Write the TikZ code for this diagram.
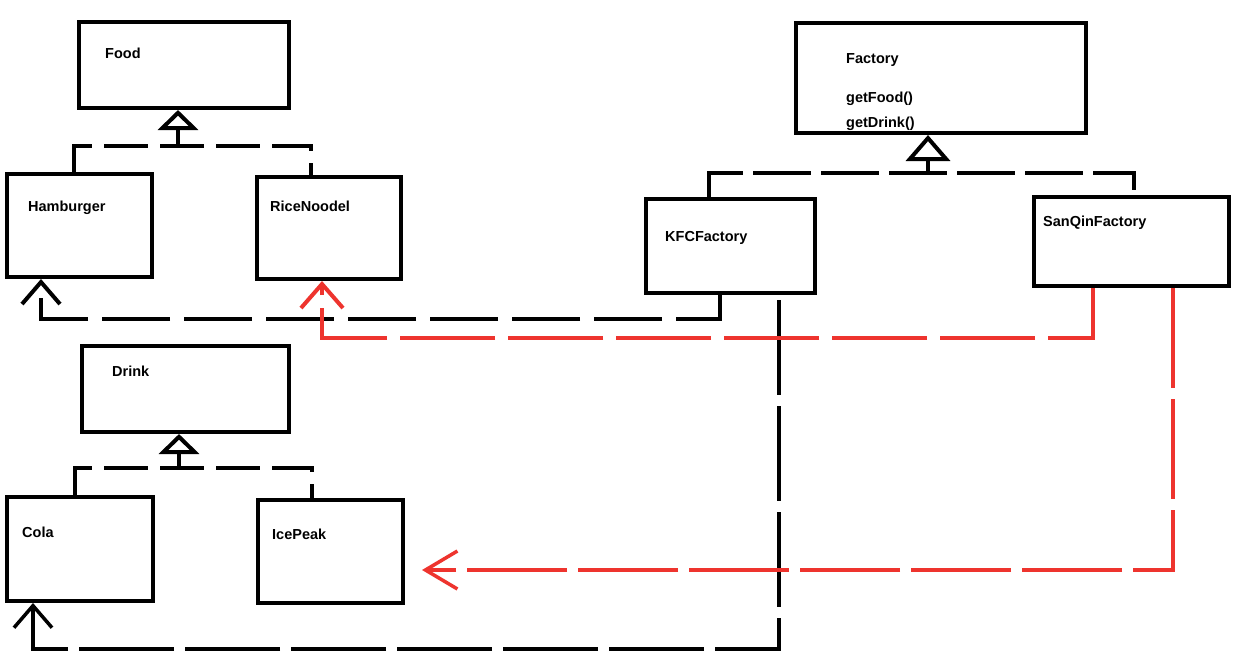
\documentclass[tikz,border=0pt]{standalone}
\usepackage{fontspec}
\setmainfont{Liberation Sans}
\usetikzlibrary{arrows.meta}
\definecolor{penred}{RGB}{238,52,46}
\tikzset{
  box/.style={draw=black, line width=4pt, inner sep=0pt, rectangle},
  lbl/.style={anchor=base west, inner sep=0pt, font=\fontsize{14.5}{16}\selectfont\bfseries},
  inhbar/.style={draw=black, line width=4pt, dash pattern=on 44pt off 12pt},
  inhstem/.style={draw=black, line width=4pt, -{Triangle[open, length=20pt, width=40pt]}},
  depblack/.style={draw=black, line width=4pt, dash pattern=on 68pt off 14pt, -{Straight Barb[length=22pt, width=38pt]}},
  depblackthin/.style={draw=black, line width=3.5pt, dash pattern=on 95pt off 11pt, -{Straight Barb[length=22pt, width=38pt]}},
  depred/.style={draw=penred, line width=4pt, dash pattern=on 95pt off 13pt, -{Straight Barb[length=24pt, width=42pt]}},
  depredthin/.style={draw=penred, line width=3.5pt, dash pattern=on 100pt off 11pt, -{Straight Barb[length=32pt, width=38pt]}},
}
\begin{document}
\begin{tikzpicture}[x=1pt, y=-1pt]
\useasboundingbox[fill=white] (0,0) rectangle (1251,665);

% boxes
\node[box, minimum width=210pt, minimum height=86pt] (food) at (184,65) {};
\node[box, minimum width=145pt, minimum height=103pt] (hamb) at (79.5,225.5) {};
\node[box, minimum width=144pt, minimum height=102pt] (rice) at (329,228) {};
\node[box, minimum width=207pt, minimum height=86pt] (drink) at (185.5,389) {};
\node[box, minimum width=146pt, minimum height=104pt] (cola) at (80,549) {};
\node[box, minimum width=145pt, minimum height=103pt] (ice) at (330.5,551.5) {};
\node[box, minimum width=290pt, minimum height=110pt] (factory) at (941,78) {};
\node[box, minimum width=169pt, minimum height=94pt] (kfc) at (730.5,246) {};
\node[box, minimum width=195pt, minimum height=89pt] (sanqin) at (1131.5,241.5) {};

% labels
\node[lbl] (foodT) at (105,58) {Food};
\node[lbl] (hambT) at (28,211) {Hamburger};
\node[lbl] (riceT) at (270,211) {RiceNoodel};
\node[lbl] (drinkT) at (112,376) {Drink};
\node[lbl] (colaT) at (22,537) {Cola};
\node[lbl] (iceT) at (272,539) {IcePeak};
\node[lbl] (factT) at (846,63) {Factory};
\node[lbl] (getFoodT) at (846,102) {getFood()};
\node[lbl] (getDrinkT) at (846,127) {getDrink()};
\node[lbl] (kfcT) at (665,241) {KFCFactory};
\node[lbl] (sanqinT) at (1043,226) {SanQinFactory};

% inheritance: Food
\coordinate (fbL) at (74,146);
\coordinate (fbR) at (311,146);
\coordinate (fbJ) at (178,146);
\draw[inhbar] (hamb.north -| fbL) -- (fbL) -- (fbR) -- (rice.north -| fbR);
\draw[inhstem] (fbJ) -- (food.south -| fbJ);

% inheritance: Drink
\coordinate (dbL) at (75,468);
\coordinate (dbR) at (312,468);
\coordinate (dbJ) at (179,468);
\draw[inhbar] (cola.north -| dbL) -- (dbL) -- (dbR) -- (ice.north -| dbR);
\draw[inhstem] (dbJ) -- (drink.south -| dbJ);

% inheritance: Factory
\coordinate (kbL) at (709,173);
\coordinate (kbR) at (1134,173);
\coordinate (kbJ) at (928,173);
\draw[inhbar, dash pattern=on 58pt off 10pt] (kfc.north -| kbL) -- (kbL) -- (kbR) -- (sanqin.north -| kbR);
\draw[inhstem, -{Triangle[open, length=26pt, width=44pt]}] (kbJ) -- (factory.south -| kbJ);

% KFCFactory -> Hamburger
\coordinate (kh1) at (720,319);
\coordinate (kh2) at (41,319);
\draw[depblack] (kfc.south -| kh1) -- (kh1) -- (kh2) -- (hamb.south -| kh2);

% KFCFactory -> Cola
\coordinate (kc0) at (779,300);
\coordinate (kc1) at (779,649);
\coordinate (kc2) at (33,649);
\draw[depblackthin] (kc0) -- (kc1) -- (kc2) -- (cola.south -| kc2);

% SanQinFactory -> RiceNoodel
\coordinate (sr1) at (1093,338);
\coordinate (sr2) at (322,338);
\draw[depred] (sanqin.south -| sr1) -- (sr1) -- (sr2) -- (rice.south -| sr2);

% SanQinFactory -> IcePeak
\coordinate (si1) at (1173,570);
\coordinate (siEnd) at (422,570);
\draw[depredthin] (sanqin.south -| si1) -- (si1) -- (siEnd);
\end{tikzpicture}
\end{document}
